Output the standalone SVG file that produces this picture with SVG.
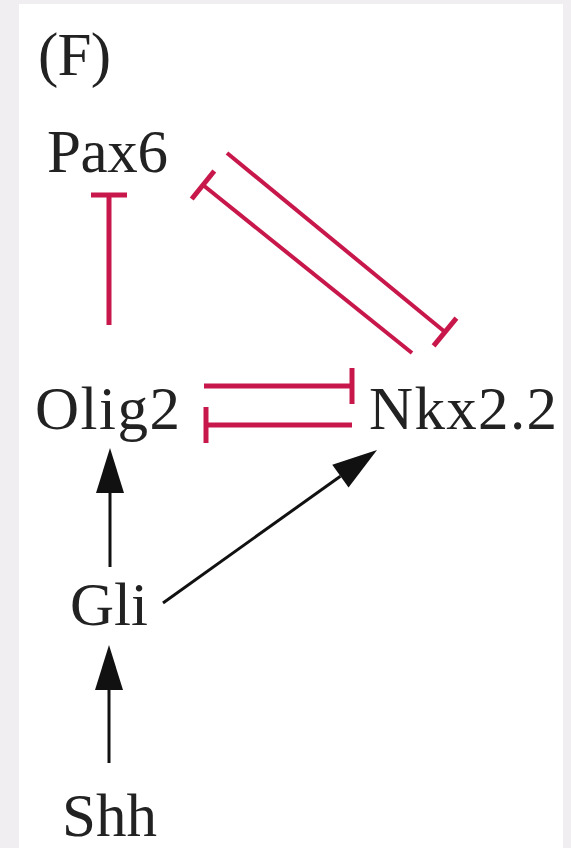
<svg xmlns="http://www.w3.org/2000/svg" width="571" height="848" viewBox="0 0 571 848">
  <style>
    .lbl { font-family: "Liberation Serif", "Times New Roman", serif; font-size: 61px; fill: #222222; }
    .inh { stroke: #c8174a; stroke-width: 5; fill: none; }
    .diag { stroke-width: 4; }
    .act { stroke: #111; stroke-width: 3; fill: none; }
  </style>
  <defs>
    <marker id="arrow" markerUnits="userSpaceOnUse" markerWidth="50" markerHeight="32" refX="0" refY="0" viewBox="-2 -16 50 32" orient="auto" overflow="visible">
      <path d="M45,0 L0,-14 L0,14 Z" fill="#111"/>
    </marker>
    <marker id="tbar" markerUnits="userSpaceOnUse" markerWidth="10" markerHeight="40" refX="0" refY="0" viewBox="-5 -20 10 40" orient="auto" overflow="visible">
      <path d="M0,-18 L0,18" stroke="#c8174a" stroke-width="5"/>
    </marker>
  </defs>
  <rect x="0" y="0" width="571" height="848" fill="#f0eef0"/>
  <rect x="19" y="4" width="544" height="844" fill="#ffffff"/>
  <text class="lbl" x="38" y="75" textLength="73">(F)</text>
  <g id="Pax6"><text class="lbl" x="47" y="172" textLength="121">Pax6</text></g>
  <g id="Olig2"><text class="lbl" x="35" y="429" textLength="145">Olig2</text></g>
  <g id="Nkx2.2"><text class="lbl" x="369" y="429" textLength="188">Nkx2.2</text></g>
  <g id="Gli"><text class="lbl" x="70" y="625" textLength="78">Gli</text></g>
  <g id="Shh"><text class="lbl" x="62" y="836" textLength="95">Shh</text></g>
  <g id="connectors">
    <path class="inh" d="M109,325 L109,195" marker-end="url(#tbar)"/>
    <path class="inh diag" d="M227,153 L445,332" marker-end="url(#tbar)"/>
    <path class="inh diag" d="M412,353 L203,185" marker-end="url(#tbar)"/>
    <path class="inh" d="M204,386 L352,386" marker-end="url(#tbar)"/>
    <path class="inh" d="M352,425 L206,425" marker-end="url(#tbar)"/>
    <path class="act" d="M110,567 L110,493" marker-end="url(#arrow)"/>
    <path class="act" d="M109,763 L109,690" marker-end="url(#arrow)"/>
    <path class="act" d="M163,603 L340.4,476.2" marker-end="url(#arrow)"/>
  </g>
</svg>
